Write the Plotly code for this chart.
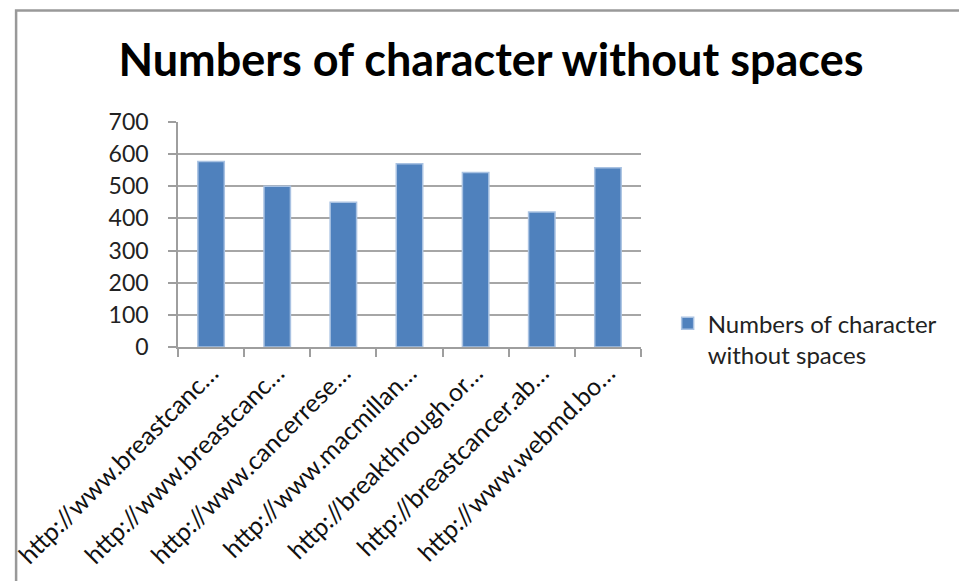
import plotly.graph_objects as go

# Sites and their character counts (spaces excluded)
sites = [
    "http://www.breastcanc…",
    "http://www.breastcanc…",
    "http://www.cancerrese…",
    "http://www.macmillan…",
    "http://breakthrough.or…",
    "http://breastcancer.ab…",
    "http://www.webmd.bo…",
]
char_counts = [577, 500, 450, 570, 543, 420, 558]
series_name = "Numbers of character without spaces"
y_ticks = [0, 100, 200, 300, 400, 500, 600, 700]

W, H = 959, 581
L, R, T, B = 172, 318, 122, 233
plot_w = W - L - R
plot_h = H - T - B


def px_x(px):
    return (px - L) / plot_w


def px_y(py):
    return (H - B - py) / plot_h


positions = list(range(len(sites)))
boundaries = [p - 0.5 for p in positions] + [positions[-1] + 0.5]

fig = go.Figure()
fig.add_trace(go.Bar(
    x=positions,
    y=char_counts,
    name="Numbers of character<br>without spaces",
    width=0.4,
    marker=dict(color="#4F81BD", line=dict(color="#A9C2E2", width=1.5)),
))

# Category labels at bar centres, tick marks on the boundaries between them
fig.update_xaxes(
    tickmode="array",
    tickvals=positions,
    ticktext=sites,
    tickangle=-45,
    range=[-0.5, len(sites) - 0.5],
    showline=True, linecolor="#9E9E9E", linewidth=1.5,
    ticks="",
    minor=dict(tickmode="array", tickvals=boundaries, ticks="outside",
               ticklen=8, tickcolor="#9E9E9E", tickwidth=1.5, showgrid=False),
    tickfont=dict(family="Lato", size=25, color="#111111"),
    showgrid=False,
    zeroline=False,
)
fig.update_yaxes(
    range=[0, 700],
    tickvals=y_ticks,
    showline=True, linecolor="#9E9E9E", linewidth=1.5,
    ticks="outside", ticklen=8, tickcolor="#9E9E9E", tickwidth=1.5,
    ticklabelstandoff=15,
    tickfont=dict(family="Lato", size=23, color="#222222"),
    showgrid=True, gridcolor="#A6A6A6", gridwidth=1.5,
    zeroline=False,
)

# Outer chart frame
fig.add_shape(
    type="rect", xref="paper", yref="paper",
    x0=px_x(8), x1=px_x(W + 20), y0=px_y(H + 20), y1=px_y(10),
    line=dict(color="#999999", width=2.5), fillcolor="rgba(0,0,0,0)",
    layer="below",
)

fig.update_layout(
    width=W, height=H,
    margin=dict(l=L, r=R, t=T, b=B),
    paper_bgcolor="white", plot_bgcolor="white",
    title=dict(
        text="<b>" + series_name + "</b>",
        x=px_x(489), xanchor="center",
        y=1 - 60 / H, yanchor="middle",
        xref="paper",
        font=dict(family="Lato", size=45, color="#000000"),
    ),
    showlegend=True,
    legend=dict(
        x=px_x(668), y=px_y(302), xanchor="left", yanchor="top",
        font=dict(family="Lato", size=24, color="#222222"),
        valign="top",
        bgcolor="rgba(0,0,0,0)",
        itemwidth=30,
    ),
)

fig.write_html("out.html")
